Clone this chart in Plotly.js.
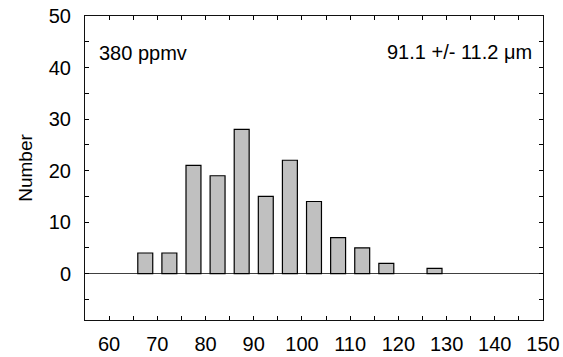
<!DOCTYPE html>
<html>
<head>
<meta charset="utf-8">
<script src="https://cdn.plot.ly/plotly-3.0.1.min.js"></script>
<style>html,body{margin:0;padding:0;background:#fff;}#chart{width:563px;height:357px;}</style>
</head>
<body>
<div id="chart"></div>
<script>
const binCenters = [67.5, 72.5, 77.5, 82.5, 87.5, 92.5, 97.5, 102.5, 107.5, 112.5, 117.5, 127.5];
const counts = [4, 4, 21, 19, 28, 15, 22, 14, 7, 5, 2, 1];
const xTickVals = [60, 70, 80, 90, 100, 110, 120, 130, 140, 150];
const yTickVals = [0, 10, 20, 30, 40, 50];
const concentrationLabel = "380 ppmv";
const sizeLabel = "91.1 +/- 11.2 \u03bcm";

const font = {family: "Liberation Sans, Arial, sans-serif", color: "#000"};

Plotly.newPlot("chart", [{
  type: "bar",
  x: binCenters,
  y: counts,
  width: 3.1,
  marker: {color: "#c0c0c0", line: {color: "#000", width: 1.2}},
  hoverinfo: "skip"
}], {
  width: 563, height: 357,
  margin: {l: 84.5, r: 20, t: 15.5, b: 37},
  paper_bgcolor: "#fff", plot_bgcolor: "#fff",
  showlegend: false,
  font: font,
  xaxis: {
    range: [55, 150], tickvals: xTickVals, ticks: "inside", ticklen: 4, tickcolor: "#000",
    showline: true, linecolor: "#111", linewidth: 1, mirror: "allticks",
    showgrid: false, zeroline: false,
    tickfont: {size: 20, family: font.family, color: "#000"},
    ticklabelstandoff: 6,
    minor: {dtick: 5, tick0: 55, ticks: "inside", ticklen: 4, tickcolor: "#000", showgrid: false}
  },
  yaxis: {
    range: [-9, 50], tickvals: yTickVals, ticks: "inside", ticklen: 4, tickcolor: "#000",
    showline: true, linecolor: "#111", linewidth: 1, mirror: "allticks",
    showgrid: false, zeroline: true, zerolinecolor: "#404040", zerolinewidth: 1,
    tickfont: {size: 20, family: font.family, color: "#000"},
    ticklabelstandoff: 9,
    minor: {dtick: 5, tick0: -5, ticks: "inside", ticklen: 4, tickcolor: "#000", showgrid: false},
    title: {text: "Number", font: {size: 19, family: font.family, color: "#000"}, standoff: 11}
  },
  annotations: [
    {xref: "paper", yref: "paper", x: 0.027, y: 0.877, xanchor: "left", yanchor: "middle",
     text: concentrationLabel, showarrow: false, font: {size: 20, family: font.family, color: "#000"}},
    {xref: "paper", yref: "paper", x: 0.98, y: 0.882, xanchor: "right", yanchor: "middle",
     text: sizeLabel, showarrow: false, font: {size: 20, family: font.family, color: "#000"}}
  ]
}, {staticPlot: true});
</script>
</body>
</html>
